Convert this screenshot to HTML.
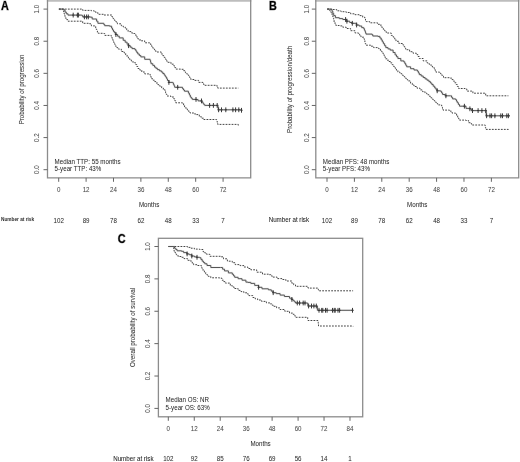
<!DOCTYPE html>
<html><head><meta charset="utf-8"><style>
html,body{margin:0;padding:0;background:#fff;}
body{width:520px;height:462px;overflow:hidden;}
svg{display:block;}
#w{width:520px;height:462px;will-change:transform;}
text{font-family:"Liberation Sans", sans-serif;fill:#2e2e2e;font-size:6.2px;stroke:rgba(60,60,60,0.10);stroke-width:0.5;paint-order:stroke;}
.lt{fill:#4a4a4a;}
.nb{font-weight:bold;fill:#333;}
.nr{fill:#222;stroke:#222;stroke-width:0.06;}
.c{text-anchor:middle;}
.yl{text-anchor:middle;font-size:6.2px;}
.L{font-weight:bold;fill:#000;stroke:rgba(0,0,0,0.35);stroke-width:0.9;}
.tk{stroke:#666;stroke-width:1.0;}
.kmh{fill:none;stroke:rgba(60,60,60,0.10);stroke-width:2.1;stroke-linejoin:round;}
.km{fill:none;stroke:#555;stroke-width:1.0;stroke-linejoin:round;}
.ci{fill:none;stroke:#454545;stroke-width:1.0;stroke-dasharray:1.8 1.2;}
.cm{fill:none;stroke:#3a3a3a;stroke-width:1.0;}
</style></head><body>
<div id="w"><svg width="520" height="462" viewBox="0 0 520 462">
<line x1="46.9" y1="0.8" x2="251.3" y2="0.8" stroke="#bdbdbd" stroke-width="1.9"/>
<path d="M47.5 0 L47.5 177.8 L250.7 177.8 L250.7 0" fill="none" stroke="#8c8c8c" stroke-width="1.3"/>
<line x1="43.5" y1="169.70" x2="47.5" y2="169.70" class="tk"/>
<text transform="translate(39.40 169.70) rotate(-90) scale(0.850 1)" text-anchor="middle" class="lt" style="font-size:7.30px">0.0</text>
<line x1="43.5" y1="137.58" x2="47.5" y2="137.58" class="tk"/>
<text transform="translate(39.40 137.58) rotate(-90) scale(0.850 1)" text-anchor="middle" class="lt" style="font-size:7.30px">0.2</text>
<line x1="43.5" y1="105.46" x2="47.5" y2="105.46" class="tk"/>
<text transform="translate(39.40 105.46) rotate(-90) scale(0.850 1)" text-anchor="middle" class="lt" style="font-size:7.30px">0.4</text>
<line x1="43.5" y1="73.34" x2="47.5" y2="73.34" class="tk"/>
<text transform="translate(39.40 73.34) rotate(-90) scale(0.850 1)" text-anchor="middle" class="lt" style="font-size:7.30px">0.6</text>
<line x1="43.5" y1="41.22" x2="47.5" y2="41.22" class="tk"/>
<text transform="translate(39.40 41.22) rotate(-90) scale(0.850 1)" text-anchor="middle" class="lt" style="font-size:7.30px">0.8</text>
<line x1="43.5" y1="9.10" x2="47.5" y2="9.10" class="tk"/>
<text transform="translate(39.40 9.10) rotate(-90) scale(0.850 1)" text-anchor="middle" class="lt" style="font-size:7.30px">1.0</text>
<line x1="58.70" y1="177.8" x2="58.70" y2="181.8" class="tk"/>
<text transform="translate(58.70 192.20) scale(0.850 1)" text-anchor="middle" class="lt" style="font-size:7.30px">0</text>
<text transform="translate(58.70 222.60) scale(0.850 1)" text-anchor="middle" style="font-size:7.30px">102</text>
<line x1="86.10" y1="177.8" x2="86.10" y2="181.8" class="tk"/>
<text transform="translate(86.10 192.20) scale(0.850 1)" text-anchor="middle" class="lt" style="font-size:7.30px">12</text>
<text transform="translate(86.10 222.60) scale(0.850 1)" text-anchor="middle" style="font-size:7.30px">89</text>
<line x1="113.49" y1="177.8" x2="113.49" y2="181.8" class="tk"/>
<text transform="translate(113.49 192.20) scale(0.850 1)" text-anchor="middle" class="lt" style="font-size:7.30px">24</text>
<text transform="translate(113.49 222.60) scale(0.850 1)" text-anchor="middle" style="font-size:7.30px">78</text>
<line x1="140.89" y1="177.8" x2="140.89" y2="181.8" class="tk"/>
<text transform="translate(140.89 192.20) scale(0.850 1)" text-anchor="middle" class="lt" style="font-size:7.30px">36</text>
<text transform="translate(140.89 222.60) scale(0.850 1)" text-anchor="middle" style="font-size:7.30px">62</text>
<line x1="168.28" y1="177.8" x2="168.28" y2="181.8" class="tk"/>
<text transform="translate(168.28 192.20) scale(0.850 1)" text-anchor="middle" class="lt" style="font-size:7.30px">48</text>
<text transform="translate(168.28 222.60) scale(0.850 1)" text-anchor="middle" style="font-size:7.30px">48</text>
<line x1="195.68" y1="177.8" x2="195.68" y2="181.8" class="tk"/>
<text transform="translate(195.68 192.20) scale(0.850 1)" text-anchor="middle" class="lt" style="font-size:7.30px">60</text>
<text transform="translate(195.68 222.60) scale(0.850 1)" text-anchor="middle" style="font-size:7.30px">33</text>
<line x1="223.08" y1="177.8" x2="223.08" y2="181.8" class="tk"/>
<text transform="translate(223.08 192.20) scale(0.850 1)" text-anchor="middle" class="lt" style="font-size:7.30px">72</text>
<text transform="translate(223.08 222.60) scale(0.850 1)" text-anchor="middle" style="font-size:7.30px">7</text>
<text transform="translate(149.10 207.10) scale(0.850 1)" text-anchor="middle" style="font-size:7.30px">Months</text>
<text transform="translate(24.00 89.40) rotate(-90) scale(0.850 1)" text-anchor="middle" style="font-size:7.30px">Probability of progression</text>
<text transform="translate(1.00 221.00) scale(0.789 1)" class="nb" style="font-size:6.00px">Number at risk</text>
<text transform="translate(1.00 10.00) scale(0.900 1)" class="L" style="font-size:12.00px">A</text>
<text transform="translate(54.60 163.50) scale(0.850 1)" style="font-size:7.30px">Median TTP: 55 months</text>
<text transform="translate(54.60 170.80) scale(0.850 1)" style="font-size:7.30px">5-year TTP: 43%</text>
<path d="M58.9 9.1L81.5 9.1L82.7 9.1L82.7 10.4L89.6 10.4L91.4 10.4L91.4 10.8L94.0 10.8L94.0 11.2L95.7 11.2L95.7 12.5L97.9 12.5L97.9 14.3L103.8 14.3L103.8 15.0L112.0 15.0L112.0 17.0L113.2 17.0L113.2 18.7L114.5 18.7L114.5 20.4L116.0 20.4L116.0 22.1L117.4 22.1L117.4 23.8L121.3 23.8L121.3 25.7L123.2 25.7L123.2 26.9L125.2 26.9L125.2 28.1L126.7 28.1L126.7 29.9L128.1 29.9L128.1 31.6L132.0 31.6L132.0 33.5L134.9 33.5L134.9 35.0L136.4 35.0L136.4 37.0L137.8 37.0L137.8 38.9L140.0 38.9L140.0 40.8L144.7 40.8L144.7 42.8L149.6 42.8L149.6 43.8L150.8 43.8L150.8 45.8L152.0 45.8L152.0 47.7L153.3 47.7L153.3 49.1L154.6 49.1L154.6 50.6L155.9 50.6L155.9 52.0L161.3 52.0L161.3 54.0L162.8 54.0L162.8 55.7L164.2 55.7L164.2 57.4L165.2 57.4L165.2 59.0L166.1 59.0L166.1 60.7L167.1 60.7L167.1 62.3L171.0 62.3L171.0 64.2L174.0 64.2L174.0 66.2L174.9 66.2L174.9 67.7L175.9 67.7L175.9 69.1L180.6 69.1L180.6 69.3L183.5 69.3L183.5 70.7L185.4 70.7L185.4 72.7L186.9 72.7L186.9 74.2L188.4 74.2L188.4 75.6L189.6 75.6L189.6 77.5L190.8 77.5L190.8 79.5L194.2 79.5L194.2 80.4L198.6 80.4L198.6 82.4L203.0 82.4L203.0 83.9L203.9 83.9L203.9 85.3L216.6 85.3L216.6 85.4L217.1 85.4L217.1 86.8L217.7 86.8L217.7 88.1L238.3 88.1" class="ci"/>
<path d="M58.9 9.1L62.8 9.1L62.8 9.5L63.2 9.5L63.2 10.9L63.7 10.9L63.7 12.4L64.1 12.4L64.1 13.8L64.5 13.8L64.5 15.3L65.0 15.3L65.0 16.7L65.4 16.7L65.4 18.2L66.7 18.2L66.7 19.7L68.0 19.7L68.0 21.2L81.8 21.2L82.7 21.2L82.7 23.3L89.6 23.3L89.6 23.8L91.4 23.8L91.4 25.9L94.8 25.9L94.8 26.4L95.7 26.4L95.7 28.1L96.3 28.1L96.3 29.5L96.8 29.5L96.8 31.0L97.4 31.0L97.4 32.4L98.3 32.4L98.3 33.3L103.8 33.3L103.8 33.5L104.7 33.5L104.7 35.4L110.6 35.4L111.3 35.4L111.3 36.9L112.0 36.9L112.0 38.4L112.8 38.4L112.8 40.3L113.5 40.3L113.5 42.3L114.5 42.3L114.5 44.2L115.4 44.2L115.4 46.2L116.9 46.2L116.9 47.7L118.4 47.7L118.4 49.1L121.3 49.1L121.3 51.5L124.2 51.5L124.2 53.0L125.7 53.0L125.7 55.0L127.1 55.0L127.1 56.9L128.4 56.9L128.4 58.2L129.7 58.2L129.7 59.5L131.3 59.5L131.3 61.1L133.0 61.1L133.0 62.7L135.5 62.7L135.5 64.5L136.7 64.5L136.7 66.5L137.9 66.5L137.9 68.5L139.9 68.5L139.9 70.2L141.8 70.2L141.8 72.0L144.7 72.0L144.7 73.9L149.6 73.9L149.6 74.4L150.3 74.4L150.3 75.9L150.9 75.9L150.9 77.3L151.6 77.3L151.6 78.8L153.1 78.8L153.1 80.2L154.5 80.2L154.5 81.6L156.0 81.6L156.0 83.0L157.9 83.0L157.9 84.7L159.8 84.7L159.8 86.3L161.7 86.3L161.7 88.0L163.3 88.0L163.3 89.6L165.0 89.6L165.0 91.2L165.6 91.2L165.6 92.8L166.3 92.8L166.3 94.4L166.9 94.4L166.9 96.0L170.8 96.0L170.8 97.0L173.8 97.0L173.8 98.9L174.8 98.9L174.8 100.8L175.7 100.8L175.7 102.8L182.5 102.8L182.5 103.3L183.6 103.3L183.6 105.2L184.6 105.2L184.6 107.0L185.9 107.0L185.9 108.5L187.3 108.5L187.3 110.0L188.7 110.0L188.7 111.5L190.0 111.5L190.0 113.0L195.0 113.0L195.0 114.6L199.3 114.6L199.3 116.8L201.5 116.8L201.5 118.2L203.7 118.2L203.7 119.5L216.6 119.5L216.6 120.0L217.0 120.0L217.0 121.5L217.3 121.5L217.3 122.9L217.7 122.9L217.7 124.4L238.3 124.4L238.3 125.5" class="ci"/>
<path d="M58.9 9.1L63.2 9.1L64.0 9.1L64.0 10.0L65.0 10.0L65.0 12.1L66.3 12.1L66.3 13.8L68.0 13.8L68.0 15.1L81.8 15.1L81.8 15.4L82.7 15.4L82.7 16.9L90.5 16.9L90.5 17.2L92.2 17.2L92.2 19.0L94.8 19.0L96.6 19.0L96.6 21.2L97.9 21.2L97.9 23.3L103.8 23.3L103.8 24.5L104.7 24.5L104.7 25.7L109.6 25.7L109.6 26.2L111.6 26.2L111.6 28.1L112.5 28.1L112.5 29.9L113.5 29.9L113.5 31.6L114.7 31.6L114.7 33.0L115.9 33.0L115.9 34.5L117.6 34.5L117.6 36.2L119.3 36.2L119.3 37.9L123.2 37.9L123.2 40.3L125.2 40.3L125.2 42.2L127.1 42.2L127.1 44.2L128.6 44.2L128.6 45.7L130.3 45.7L130.3 47.2L132.0 47.2L132.0 48.6L134.9 48.6L134.9 49.6L135.9 49.6L135.9 51.1L136.8 51.1L136.8 52.5L137.8 52.5L137.8 54.0L139.3 54.0L139.3 55.5L140.8 55.5L140.8 56.9L144.7 56.9L144.7 59.3L150.1 59.3L150.1 60.5L150.6 60.5L150.6 62.1L151.0 62.1L151.0 63.7L152.8 63.7L152.8 65.4L154.5 65.4L154.5 67.1L155.9 67.1L155.9 68.3L157.4 68.3L157.4 69.6L159.4 69.6L159.4 70.8L161.3 70.8L161.3 72.0L162.8 72.0L162.8 73.5L164.2 73.5L164.2 74.9L165.1 74.9L165.1 76.2L166.0 76.2L166.0 77.5L166.8 77.5L166.8 79.0L167.5 79.0L167.5 80.5L168.9 80.5L168.9 82.4L172.8 82.4L172.8 82.9L173.4 82.9L173.4 84.4L174.1 84.4L174.1 85.8L174.7 85.8L174.7 87.3L182.5 87.3L182.5 88.7L183.5 88.7L183.5 90.0L184.5 90.0L184.5 91.2L188.4 91.2L188.4 93.1L189.4 93.1L189.4 95.0L190.3 95.0L190.3 97.0L191.3 97.0L191.3 98.2L192.3 98.2L192.3 99.4L196.2 99.4L196.2 99.6L198.1 99.6L198.1 100.9L202.0 100.9L202.0 101.9L202.8 101.9L202.8 103.2L203.7 103.2L203.7 104.4L204.7 104.4L204.7 105.4L217.7 105.4L217.9 105.4L217.9 106.9L218.1 106.9L218.1 108.3L218.3 108.3L218.3 109.8L241.5 109.8L241.5 110.3" class="kmh"/>
<path d="M58.9 9.1L63.2 9.1L64.0 9.1L64.0 10.0L65.0 10.0L65.0 12.1L66.3 12.1L66.3 13.8L68.0 13.8L68.0 15.1L81.8 15.1L81.8 15.4L82.7 15.4L82.7 16.9L90.5 16.9L90.5 17.2L92.2 17.2L92.2 19.0L94.8 19.0L96.6 19.0L96.6 21.2L97.9 21.2L97.9 23.3L103.8 23.3L103.8 24.5L104.7 24.5L104.7 25.7L109.6 25.7L109.6 26.2L111.6 26.2L111.6 28.1L112.5 28.1L112.5 29.9L113.5 29.9L113.5 31.6L114.7 31.6L114.7 33.0L115.9 33.0L115.9 34.5L117.6 34.5L117.6 36.2L119.3 36.2L119.3 37.9L123.2 37.9L123.2 40.3L125.2 40.3L125.2 42.2L127.1 42.2L127.1 44.2L128.6 44.2L128.6 45.7L130.3 45.7L130.3 47.2L132.0 47.2L132.0 48.6L134.9 48.6L134.9 49.6L135.9 49.6L135.9 51.1L136.8 51.1L136.8 52.5L137.8 52.5L137.8 54.0L139.3 54.0L139.3 55.5L140.8 55.5L140.8 56.9L144.7 56.9L144.7 59.3L150.1 59.3L150.1 60.5L150.6 60.5L150.6 62.1L151.0 62.1L151.0 63.7L152.8 63.7L152.8 65.4L154.5 65.4L154.5 67.1L155.9 67.1L155.9 68.3L157.4 68.3L157.4 69.6L159.4 69.6L159.4 70.8L161.3 70.8L161.3 72.0L162.8 72.0L162.8 73.5L164.2 73.5L164.2 74.9L165.1 74.9L165.1 76.2L166.0 76.2L166.0 77.5L166.8 77.5L166.8 79.0L167.5 79.0L167.5 80.5L168.9 80.5L168.9 82.4L172.8 82.4L172.8 82.9L173.4 82.9L173.4 84.4L174.1 84.4L174.1 85.8L174.7 85.8L174.7 87.3L182.5 87.3L182.5 88.7L183.5 88.7L183.5 90.0L184.5 90.0L184.5 91.2L188.4 91.2L188.4 93.1L189.4 93.1L189.4 95.0L190.3 95.0L190.3 97.0L191.3 97.0L191.3 98.2L192.3 98.2L192.3 99.4L196.2 99.4L196.2 99.6L198.1 99.6L198.1 100.9L202.0 100.9L202.0 101.9L202.8 101.9L202.8 103.2L203.7 103.2L203.7 104.4L204.7 104.4L204.7 105.4L217.7 105.4L217.9 105.4L217.9 106.9L218.1 106.9L218.1 108.3L218.3 108.3L218.3 109.8L241.5 109.8L241.5 110.3" class="km"/>
<path d="M73.2 12.7V17.5M72.1 15.1H74.3" class="cm"/>
<path d="M77.4 12.7V17.5M76.3 15.1H78.5" class="cm"/>
<path d="M78.4 12.7V17.5M77.3 15.1H79.5" class="cm"/>
<path d="M84.4 14.5V19.3M83.3 16.9H85.5" class="cm"/>
<path d="M86.6 14.5V19.3M85.5 16.9H87.7" class="cm"/>
<path d="M88.3 14.5V19.3M87.2 16.9H89.4" class="cm"/>
<path d="M115.9 32.1V36.9M114.8 34.5H117.0" class="cm"/>
<path d="M128.6 43.3V48.1M127.5 45.7H129.7" class="cm"/>
<path d="M168.9 80.0V84.8M167.8 82.4H170.0" class="cm"/>
<path d="M177.7 84.9V89.7M176.6 87.3H178.8" class="cm"/>
<path d="M196.0 97.0V101.8M194.9 99.4H197.1" class="cm"/>
<path d="M201.5 98.5V103.3M200.4 100.9H202.6" class="cm"/>
<path d="M209.6 103.0V107.8M208.5 105.4H210.7" class="cm"/>
<path d="M213.4 103.0V107.8M212.3 105.4H214.5" class="cm"/>
<path d="M217.2 103.0V107.8M216.1 105.4H218.3" class="cm"/>
<path d="M218.6 107.4V112.2M217.5 109.8H219.7" class="cm"/>
<path d="M221.5 107.4V112.2M220.4 109.8H222.6" class="cm"/>
<path d="M225.8 107.4V112.2M224.7 109.8H226.9" class="cm"/>
<path d="M232.9 107.4V112.2M231.8 109.8H234.0" class="cm"/>
<path d="M235.6 107.4V112.2M234.5 109.8H236.7" class="cm"/>
<path d="M238.8 107.4V112.2M237.7 109.8H239.9" class="cm"/>
<path d="M241.5 107.9V112.7M240.4 110.3H242.6" class="cm"/>
<line x1="315.2" y1="0.8" x2="519.3" y2="0.8" stroke="#bdbdbd" stroke-width="1.9"/>
<path d="M315.8 0 L315.8 177.8 L518.7 177.8 L518.7 0" fill="none" stroke="#8c8c8c" stroke-width="1.3"/>
<line x1="311.8" y1="169.70" x2="315.8" y2="169.70" class="tk"/>
<text transform="translate(308.60 169.70) rotate(-90) scale(0.850 1)" text-anchor="middle" class="lt" style="font-size:7.30px">0.0</text>
<line x1="311.8" y1="137.58" x2="315.8" y2="137.58" class="tk"/>
<text transform="translate(308.60 137.58) rotate(-90) scale(0.850 1)" text-anchor="middle" class="lt" style="font-size:7.30px">0.2</text>
<line x1="311.8" y1="105.46" x2="315.8" y2="105.46" class="tk"/>
<text transform="translate(308.60 105.46) rotate(-90) scale(0.850 1)" text-anchor="middle" class="lt" style="font-size:7.30px">0.4</text>
<line x1="311.8" y1="73.34" x2="315.8" y2="73.34" class="tk"/>
<text transform="translate(308.60 73.34) rotate(-90) scale(0.850 1)" text-anchor="middle" class="lt" style="font-size:7.30px">0.6</text>
<line x1="311.8" y1="41.22" x2="315.8" y2="41.22" class="tk"/>
<text transform="translate(308.60 41.22) rotate(-90) scale(0.850 1)" text-anchor="middle" class="lt" style="font-size:7.30px">0.8</text>
<line x1="311.8" y1="9.10" x2="315.8" y2="9.10" class="tk"/>
<text transform="translate(308.60 9.10) rotate(-90) scale(0.850 1)" text-anchor="middle" class="lt" style="font-size:7.30px">1.0</text>
<line x1="327.00" y1="177.8" x2="327.00" y2="181.8" class="tk"/>
<text transform="translate(327.00 192.20) scale(0.850 1)" text-anchor="middle" class="lt" style="font-size:7.30px">0</text>
<text transform="translate(327.00 222.80) scale(0.850 1)" text-anchor="middle" style="font-size:7.30px">102</text>
<line x1="354.40" y1="177.8" x2="354.40" y2="181.8" class="tk"/>
<text transform="translate(354.40 192.20) scale(0.850 1)" text-anchor="middle" class="lt" style="font-size:7.30px">12</text>
<text transform="translate(354.40 222.80) scale(0.850 1)" text-anchor="middle" style="font-size:7.30px">89</text>
<line x1="381.79" y1="177.8" x2="381.79" y2="181.8" class="tk"/>
<text transform="translate(381.79 192.20) scale(0.850 1)" text-anchor="middle" class="lt" style="font-size:7.30px">24</text>
<text transform="translate(381.79 222.80) scale(0.850 1)" text-anchor="middle" style="font-size:7.30px">78</text>
<line x1="409.19" y1="177.8" x2="409.19" y2="181.8" class="tk"/>
<text transform="translate(409.19 192.20) scale(0.850 1)" text-anchor="middle" class="lt" style="font-size:7.30px">36</text>
<text transform="translate(409.19 222.80) scale(0.850 1)" text-anchor="middle" style="font-size:7.30px">62</text>
<line x1="436.58" y1="177.8" x2="436.58" y2="181.8" class="tk"/>
<text transform="translate(436.58 192.20) scale(0.850 1)" text-anchor="middle" class="lt" style="font-size:7.30px">48</text>
<text transform="translate(436.58 222.80) scale(0.850 1)" text-anchor="middle" style="font-size:7.30px">48</text>
<line x1="463.98" y1="177.8" x2="463.98" y2="181.8" class="tk"/>
<text transform="translate(463.98 192.20) scale(0.850 1)" text-anchor="middle" class="lt" style="font-size:7.30px">60</text>
<text transform="translate(463.98 222.80) scale(0.850 1)" text-anchor="middle" style="font-size:7.30px">33</text>
<line x1="491.38" y1="177.8" x2="491.38" y2="181.8" class="tk"/>
<text transform="translate(491.38 192.20) scale(0.850 1)" text-anchor="middle" class="lt" style="font-size:7.30px">72</text>
<text transform="translate(491.38 222.80) scale(0.850 1)" text-anchor="middle" style="font-size:7.30px">7</text>
<text transform="translate(417.25 207.10) scale(0.850 1)" text-anchor="middle" style="font-size:7.30px">Months</text>
<text transform="translate(292.40 89.40) rotate(-90) scale(0.850 1)" text-anchor="middle" style="font-size:7.30px">Probability of progression/death</text>
<text transform="translate(268.70 222.00) scale(0.850 1)" class="nr" style="font-size:7.30px">Number at risk</text>
<text transform="translate(269.00 10.00) scale(0.900 1)" class="L" style="font-size:12.00px">B</text>
<text transform="translate(322.80 163.50) scale(0.850 1)" style="font-size:7.30px">Median PFS: 48 months</text>
<text transform="translate(322.80 170.80) scale(0.850 1)" style="font-size:7.30px">5-year PFS: 43%</text>
<path d="M327.2 9.1L332.4 9.1L332.4 9.5L336.7 9.5L336.7 10.8L341.0 10.8L341.0 11.7L346.2 11.7L346.2 12.5L350.6 12.5L350.6 13.8L354.9 13.8L354.9 14.7L359.2 14.7L359.2 15.6L362.7 15.6L362.7 17.3L364.9 17.3L364.9 19.0L365.5 19.0L365.5 20.3L366.2 20.3L366.2 21.6L369.7 21.6L369.7 22.8L377.5 22.8L377.5 24.3L380.9 24.3L380.9 26.7L382.1 26.7L382.1 28.4L383.4 28.4L383.4 30.1L384.9 30.1L384.9 31.6L386.3 31.6L386.3 33.0L391.2 33.0L391.2 35.4L392.4 35.4L392.4 36.6L393.6 36.6L393.6 37.9L394.8 37.9L394.8 39.6L396.0 39.6L396.0 41.3L398.9 41.3L398.9 43.5L402.8 43.5L402.8 44.9L403.8 44.9L403.8 46.5L404.7 46.5L404.7 48.1L405.7 48.1L405.7 49.7L409.6 49.7L409.6 51.7L413.0 51.7L413.0 53.2L416.4 53.2L416.4 54.6L417.9 54.6L417.9 56.5L419.3 56.5L419.3 58.5L423.2 58.5L423.2 60.9L427.1 60.9L427.1 62.9L429.1 62.9L429.1 64.3L431.0 64.3L431.0 65.8L432.4 65.8L432.4 67.0L433.9 67.0L433.9 68.2L434.9 68.2L434.9 70.2L435.9 70.2L435.9 72.1L439.6 72.1L439.6 73.3L440.9 73.3L440.9 74.8L442.2 74.8L442.2 76.2L443.5 76.2L443.5 77.7L450.3 77.7L450.3 78.1L451.8 78.1L451.8 79.6L453.2 79.6L453.2 81.1L454.7 81.1L454.7 82.8L456.2 82.8L456.2 84.5L457.4 84.5L457.4 86.5L458.6 86.5L458.6 88.5L465.1 88.5L465.1 88.9L466.8 88.9L466.8 91.1L471.2 91.1L472.9 91.1L472.9 93.2L485.7 93.2L485.7 95.8L508.4 95.8" class="ci"/>
<path d="M327.2 9.1L329.8 9.1L329.8 10.8L330.6 10.8L330.6 12.1L331.5 12.1L331.5 13.4L332.1 13.4L332.1 15.0L332.7 15.0L332.7 16.6L333.3 16.6L333.3 18.2L333.7 18.2L333.7 20.1L334.1 20.1L334.1 22.0L335.0 22.0L335.0 23.8L335.9 23.8L335.9 25.5L339.3 25.5L339.3 25.9L342.8 25.9L342.8 27.2L346.2 27.2L346.2 28.5L350.6 28.5L350.6 30.7L354.9 30.7L354.9 32.9L358.4 32.9L358.4 34.2L359.7 34.2L359.7 35.7L361.0 35.7L361.0 37.2L363.9 37.2L363.9 38.9L364.4 38.9L364.4 40.5L364.9 40.5L364.9 42.0L365.3 42.0L365.3 43.6L365.8 43.6L365.8 45.2L370.7 45.2L370.7 46.2L373.6 46.2L373.6 47.6L378.5 47.6L378.5 48.6L380.4 48.6L380.4 51.0L381.9 51.0L381.9 53.0L383.4 53.0L383.4 54.9L384.4 54.9L384.4 56.8L385.3 56.8L385.3 58.8L387.1 58.8L387.1 60.2L388.8 60.2L388.8 61.5L390.6 61.5L390.6 62.9L392.1 62.9L392.1 64.7L393.5 64.7L393.5 66.4L395.0 66.4L395.0 68.2L396.4 68.2L396.4 70.2L397.9 70.2L397.9 72.1L399.9 72.1L399.9 73.6L401.8 73.6L401.8 75.1L403.2 75.1L403.2 76.5L404.7 76.5L404.7 78.0L406.2 78.0L406.2 79.5L407.7 79.5L407.7 80.9L410.6 80.9L410.6 83.3L412.3 83.3L412.3 84.9L414.0 84.9L414.0 86.5L417.0 86.5L417.0 88.2L420.0 88.2L420.0 89.9L422.5 89.9L422.5 91.6L425.0 91.6L425.0 93.2L426.9 93.2L426.9 94.7L428.9 94.7L428.9 96.2L430.4 96.2L430.4 97.7L431.8 97.7L431.8 99.1L433.2 99.1L433.2 100.5L434.7 100.5L434.7 102.0L436.2 102.0L436.2 103.5L437.7 103.5L437.7 104.9L441.6 104.9L441.6 105.9L442.1 105.9L442.1 107.3L442.5 107.3L442.5 108.7L443.0 108.7L443.0 110.1L449.5 110.1L449.5 110.5L450.8 110.5L450.8 111.8L452.1 111.8L452.1 113.1L455.6 113.1L455.6 113.6L456.6 113.6L456.6 115.5L457.7 115.5L457.7 117.5L458.6 117.5L458.6 118.8L459.5 118.8L459.5 120.1L466.0 120.1L466.0 120.5L468.6 120.5L468.6 122.7L470.5 122.7L470.5 123.5L471.6 123.5L471.6 125.0L485.2 125.0L485.2 125.6L485.4 125.6L485.4 127.5L485.7 127.5L485.7 129.4L508.4 129.4L508.4 129.9" class="ci"/>
<path d="M327.2 9.1L330.7 9.1L330.7 9.5L332.0 9.5L332.0 11.2L332.8 11.2L332.8 13.4L333.7 13.4L333.7 15.6L335.4 15.6L335.4 17.7L339.3 17.7L339.3 18.6L342.8 18.6L342.8 19.5L346.7 19.5L346.7 21.2L349.7 21.2L349.7 22.5L352.3 22.5L352.3 23.3L356.6 23.3L356.6 25.0L359.1 25.0L359.1 26.0L361.7 26.0L361.7 27.6L363.7 27.6L363.7 28.6L364.4 28.6L364.4 30.1L365.0 30.1L365.0 31.5L365.5 31.5L365.5 32.8L366.0 32.8L366.0 34.1L372.1 34.1L372.1 34.7L372.8 34.7L372.8 36.0L378.0 36.0L378.0 36.4L379.9 36.4L379.9 38.0L381.2 38.0L381.2 39.9L382.3 39.9L382.3 41.8L383.4 41.8L383.4 43.7L384.6 43.7L384.6 45.7L385.8 45.7L385.8 47.6L388.0 47.6L388.0 48.9L390.2 48.9L390.2 50.1L393.1 50.1L393.1 52.5L395.1 52.5L395.1 54.9L396.5 54.9L396.5 56.7L397.9 56.7L397.9 58.5L400.8 58.5L400.8 60.9L403.8 60.9L403.8 61.9L404.8 61.9L404.8 63.5L405.7 63.5L405.7 65.2L406.7 65.2L406.7 66.8L410.6 66.8L410.6 68.7L414.0 68.7L414.0 70.0L417.4 70.0L417.4 71.2L418.4 71.2L418.4 72.9L419.3 72.9L419.3 74.6L421.2 74.6L421.2 76.0L423.2 76.0L423.2 77.5L425.1 77.5L425.1 78.9L427.0 78.9L427.0 80.2L428.9 80.2L428.9 81.6L430.4 81.6L430.4 83.0L431.8 83.0L431.8 84.5L433.2 84.5L433.2 86.2L434.7 86.2L434.7 87.9L435.9 87.9L435.9 89.3L437.2 89.3L437.2 90.8L440.6 90.8L440.6 91.3L441.6 91.3L441.6 92.9L442.6 92.9L442.6 94.5L445.2 94.5L445.2 95.8L450.4 95.8L451.5 95.8L451.5 97.3L452.6 97.3L452.6 98.9L455.6 98.9L455.6 99.7L456.5 99.7L456.5 101.2L457.3 101.2L457.3 102.7L458.4 102.7L458.4 104.5L459.5 104.5L459.5 106.2L464.2 106.2L466.0 106.2L466.0 108.4L469.9 108.4L469.9 108.8L471.6 108.8L471.6 110.6L486.2 110.6L486.2 111.0L486.2 115.8L510.0 115.8" class="kmh"/>
<path d="M327.2 9.1L330.7 9.1L330.7 9.5L332.0 9.5L332.0 11.2L332.8 11.2L332.8 13.4L333.7 13.4L333.7 15.6L335.4 15.6L335.4 17.7L339.3 17.7L339.3 18.6L342.8 18.6L342.8 19.5L346.7 19.5L346.7 21.2L349.7 21.2L349.7 22.5L352.3 22.5L352.3 23.3L356.6 23.3L356.6 25.0L359.1 25.0L359.1 26.0L361.7 26.0L361.7 27.6L363.7 27.6L363.7 28.6L364.4 28.6L364.4 30.1L365.0 30.1L365.0 31.5L365.5 31.5L365.5 32.8L366.0 32.8L366.0 34.1L372.1 34.1L372.1 34.7L372.8 34.7L372.8 36.0L378.0 36.0L378.0 36.4L379.9 36.4L379.9 38.0L381.2 38.0L381.2 39.9L382.3 39.9L382.3 41.8L383.4 41.8L383.4 43.7L384.6 43.7L384.6 45.7L385.8 45.7L385.8 47.6L388.0 47.6L388.0 48.9L390.2 48.9L390.2 50.1L393.1 50.1L393.1 52.5L395.1 52.5L395.1 54.9L396.5 54.9L396.5 56.7L397.9 56.7L397.9 58.5L400.8 58.5L400.8 60.9L403.8 60.9L403.8 61.9L404.8 61.9L404.8 63.5L405.7 63.5L405.7 65.2L406.7 65.2L406.7 66.8L410.6 66.8L410.6 68.7L414.0 68.7L414.0 70.0L417.4 70.0L417.4 71.2L418.4 71.2L418.4 72.9L419.3 72.9L419.3 74.6L421.2 74.6L421.2 76.0L423.2 76.0L423.2 77.5L425.1 77.5L425.1 78.9L427.0 78.9L427.0 80.2L428.9 80.2L428.9 81.6L430.4 81.6L430.4 83.0L431.8 83.0L431.8 84.5L433.2 84.5L433.2 86.2L434.7 86.2L434.7 87.9L435.9 87.9L435.9 89.3L437.2 89.3L437.2 90.8L440.6 90.8L440.6 91.3L441.6 91.3L441.6 92.9L442.6 92.9L442.6 94.5L445.2 94.5L445.2 95.8L450.4 95.8L451.5 95.8L451.5 97.3L452.6 97.3L452.6 98.9L455.6 98.9L455.6 99.7L456.5 99.7L456.5 101.2L457.3 101.2L457.3 102.7L458.4 102.7L458.4 104.5L459.5 104.5L459.5 106.2L464.2 106.2L466.0 106.2L466.0 108.4L469.9 108.4L469.9 108.8L471.6 108.8L471.6 110.6L486.2 110.6L486.2 111.0L486.2 115.8L510.0 115.8" class="km"/>
<path d="M345.6 17.1V21.9M344.5 19.5H346.7" class="cm"/>
<path d="M346.9 18.8V23.6M345.8 21.2H348.0" class="cm"/>
<path d="M352.3 20.9V25.7M351.2 23.3H353.4" class="cm"/>
<path d="M356.6 22.6V27.4M355.5 25.0H357.7" class="cm"/>
<path d="M437.2 88.4V93.2M436.1 90.8H438.3" class="cm"/>
<path d="M445.9 93.4V98.2M444.8 95.8H447.0" class="cm"/>
<path d="M464.4 103.8V108.6M463.3 106.2H465.5" class="cm"/>
<path d="M469.9 106.4V111.2M468.8 108.8H471.0" class="cm"/>
<path d="M472.5 108.2V113.0M471.4 110.6H473.6" class="cm"/>
<path d="M478.1 108.2V113.0M477.0 110.6H479.2" class="cm"/>
<path d="M481.9 108.2V113.0M480.8 110.6H483.0" class="cm"/>
<path d="M485.7 108.2V113.0M484.6 110.6H486.8" class="cm"/>
<path d="M486.6 113.4V118.2M485.5 115.8H487.7" class="cm"/>
<path d="M490.0 113.4V118.2M488.9 115.8H491.1" class="cm"/>
<path d="M491.6 113.4V118.2M490.5 115.8H492.7" class="cm"/>
<path d="M494.9 113.4V118.2M493.8 115.8H496.0" class="cm"/>
<path d="M500.8 113.4V118.2M499.7 115.8H501.9" class="cm"/>
<path d="M502.5 113.4V118.2M501.4 115.8H503.6" class="cm"/>
<path d="M506.8 113.4V118.2M505.7 115.8H507.9" class="cm"/>
<path d="M508.4 113.4V118.2M507.3 115.8H509.5" class="cm"/>
<rect x="158.4" y="238.3" width="204.3" height="178.5" fill="none" stroke="#8c8c8c" stroke-width="1.3"/>
<line x1="154.4" y1="408.40" x2="158.4" y2="408.40" class="tk"/>
<text transform="translate(150.20 408.40) rotate(-90) scale(0.850 1)" text-anchor="middle" class="lt" style="font-size:7.30px">0.0</text>
<line x1="154.4" y1="376.02" x2="158.4" y2="376.02" class="tk"/>
<text transform="translate(150.20 376.02) rotate(-90) scale(0.850 1)" text-anchor="middle" class="lt" style="font-size:7.30px">0.2</text>
<line x1="154.4" y1="343.64" x2="158.4" y2="343.64" class="tk"/>
<text transform="translate(150.20 343.64) rotate(-90) scale(0.850 1)" text-anchor="middle" class="lt" style="font-size:7.30px">0.4</text>
<line x1="154.4" y1="311.26" x2="158.4" y2="311.26" class="tk"/>
<text transform="translate(150.20 311.26) rotate(-90) scale(0.850 1)" text-anchor="middle" class="lt" style="font-size:7.30px">0.6</text>
<line x1="154.4" y1="278.88" x2="158.4" y2="278.88" class="tk"/>
<text transform="translate(150.20 278.88) rotate(-90) scale(0.850 1)" text-anchor="middle" class="lt" style="font-size:7.30px">0.8</text>
<line x1="154.4" y1="246.50" x2="158.4" y2="246.50" class="tk"/>
<text transform="translate(150.20 246.50) rotate(-90) scale(0.850 1)" text-anchor="middle" class="lt" style="font-size:7.30px">1.0</text>
<line x1="168.30" y1="416.8" x2="168.30" y2="420.8" class="tk"/>
<text transform="translate(168.30 431.20) scale(0.850 1)" text-anchor="middle" class="lt" style="font-size:7.30px">0</text>
<text transform="translate(168.30 461.30) scale(0.850 1)" text-anchor="middle" style="font-size:7.30px">102</text>
<line x1="194.26" y1="416.8" x2="194.26" y2="420.8" class="tk"/>
<text transform="translate(194.26 431.20) scale(0.850 1)" text-anchor="middle" class="lt" style="font-size:7.30px">12</text>
<text transform="translate(194.26 461.30) scale(0.850 1)" text-anchor="middle" style="font-size:7.30px">92</text>
<line x1="220.21" y1="416.8" x2="220.21" y2="420.8" class="tk"/>
<text transform="translate(220.21 431.20) scale(0.850 1)" text-anchor="middle" class="lt" style="font-size:7.30px">24</text>
<text transform="translate(220.21 461.30) scale(0.850 1)" text-anchor="middle" style="font-size:7.30px">85</text>
<line x1="246.17" y1="416.8" x2="246.17" y2="420.8" class="tk"/>
<text transform="translate(246.17 431.20) scale(0.850 1)" text-anchor="middle" class="lt" style="font-size:7.30px">36</text>
<text transform="translate(246.17 461.30) scale(0.850 1)" text-anchor="middle" style="font-size:7.30px">76</text>
<line x1="272.12" y1="416.8" x2="272.12" y2="420.8" class="tk"/>
<text transform="translate(272.12 431.20) scale(0.850 1)" text-anchor="middle" class="lt" style="font-size:7.30px">48</text>
<text transform="translate(272.12 461.30) scale(0.850 1)" text-anchor="middle" style="font-size:7.30px">69</text>
<line x1="298.08" y1="416.8" x2="298.08" y2="420.8" class="tk"/>
<text transform="translate(298.08 431.20) scale(0.850 1)" text-anchor="middle" class="lt" style="font-size:7.30px">60</text>
<text transform="translate(298.08 461.30) scale(0.850 1)" text-anchor="middle" style="font-size:7.30px">56</text>
<line x1="324.04" y1="416.8" x2="324.04" y2="420.8" class="tk"/>
<text transform="translate(324.04 431.20) scale(0.850 1)" text-anchor="middle" class="lt" style="font-size:7.30px">72</text>
<text transform="translate(324.04 461.30) scale(0.850 1)" text-anchor="middle" style="font-size:7.30px">14</text>
<line x1="349.99" y1="416.8" x2="349.99" y2="420.8" class="tk"/>
<text transform="translate(349.99 431.20) scale(0.850 1)" text-anchor="middle" class="lt" style="font-size:7.30px">84</text>
<text transform="translate(349.99 461.30) scale(0.850 1)" text-anchor="middle" style="font-size:7.30px">1</text>
<text transform="translate(260.55 445.90) scale(0.850 1)" text-anchor="middle" style="font-size:7.30px">Months</text>
<text transform="translate(135.00 327.45) rotate(-90) scale(0.850 1)" text-anchor="middle" style="font-size:7.30px">Overall probability of survival</text>
<text transform="translate(113.20 461.30) scale(0.850 1)" class="nr" style="font-size:7.30px">Number at risk</text>
<text transform="translate(117.80 243.30) scale(0.900 1)" class="L" style="font-size:12.00px">C</text>
<text transform="translate(165.60 402.30) scale(0.850 1)" style="font-size:7.30px">Median OS: NR</text>
<text transform="translate(165.60 409.60) scale(0.850 1)" style="font-size:7.30px">5-year OS: 63%</text>
<path d="M168.5 246.5L184.0 246.5L187.5 246.5L187.5 247.4L191.0 247.4L191.0 248.2L194.4 248.2L194.4 249.1L199.6 249.1L199.6 249.5L203.1 249.5L203.1 251.7L204.8 251.7L204.8 253.0L206.6 253.0L206.6 254.3L209.9 254.3L209.9 256.3L220.6 256.3L220.6 256.8L223.5 256.8L223.5 258.8L227.4 258.8L227.4 261.2L232.3 261.2L232.3 262.7L235.2 262.7L235.2 264.6L240.1 264.6L240.1 265.6L244.0 265.6L244.0 267.0L247.8 267.0L247.8 268.5L250.8 268.5L250.8 269.8L256.7 269.8L256.7 272.2L262.5 272.2L262.5 274.2L269.3 274.2L269.3 274.7L270.8 274.7L270.8 275.9L272.3 275.9L272.3 277.1L277.1 277.1L277.1 278.6L282.0 278.6L282.0 279.5L285.9 279.5L285.9 281.0L291.9 281.0L291.9 283.3L293.7 283.3L293.7 284.8L295.5 284.8L295.5 286.3L307.4 286.3L308.0 286.3L308.0 288.1L318.0 288.1L318.2 288.1L318.2 289.5L318.5 289.5L318.5 290.8L353.1 290.8" class="ci"/>
<path d="M168.5 246.5L173.2 246.5L173.2 246.9L173.5 246.9L173.5 248.4L173.8 248.4L173.8 249.8L174.1 249.8L174.1 251.3L175.2 251.3L175.2 253.0L176.3 253.0L176.3 254.7L178.0 254.7L178.0 256.5L181.5 256.5L181.5 257.3L184.0 257.3L184.0 258.6L187.5 258.6L187.5 260.3L191.0 260.3L191.0 262.1L192.3 262.1L192.3 263.4L193.6 263.4L193.6 264.7L197.0 264.7L197.0 265.5L199.6 265.5L201.4 265.5L201.4 267.7L202.2 267.7L202.2 269.2L203.1 269.2L203.1 270.7L204.4 270.7L204.4 272.2L205.7 272.2L205.7 273.8L207.0 273.8L207.0 275.1L208.3 275.1L208.3 276.4L210.8 276.4L210.8 277.8L219.6 277.8L219.6 278.2L222.0 278.2L222.0 280.2L223.7 280.2L223.7 281.6L225.4 281.6L225.4 283.1L230.3 283.1L230.3 285.5L232.2 285.5L232.2 287.0L234.2 287.0L234.2 288.5L238.1 288.5L238.1 290.4L241.0 290.4L241.0 291.6L243.9 291.6L243.9 292.8L247.8 292.8L247.8 294.3L248.9 294.3L248.9 295.6L252.8 295.6L252.8 297.5L255.2 297.5L255.2 298.8L257.7 298.8L257.7 300.0L261.6 300.0L261.6 301.4L266.4 301.4L266.4 302.9L270.3 302.9L270.3 303.9L271.8 303.9L271.8 305.1L273.2 305.1L273.2 306.3L276.6 306.3L276.6 307.9L280.0 307.9L280.0 309.5L284.8 309.5L284.8 311.3L289.5 311.3L289.5 313.1L293.1 313.1L293.1 314.3L294.3 314.3L294.3 315.8L295.5 315.8L295.5 317.3L307.4 317.3L307.7 317.3L307.7 318.9L308.0 318.9L308.0 320.5L318.0 320.5L318.0 321.0L318.2 321.0L318.2 322.7L318.3 322.7L318.3 324.3L318.5 324.3L318.5 326.0L353.1 326.0L353.1 326.3" class="ci"/>
<path d="M168.5 246.5L173.2 246.5L174.5 246.5L174.5 248.2L175.8 248.2L175.8 249.5L177.1 249.5L177.1 250.8L181.5 250.8L181.5 251.3L183.6 251.3L183.6 252.6L187.1 252.6L187.1 253.9L189.2 253.9L189.2 254.7L191.8 254.7L191.8 256.0L194.4 256.0L194.4 256.9L197.0 256.9L197.0 257.3L199.6 257.3L199.6 257.7L200.9 257.7L200.9 259.4L202.2 259.4L202.2 261.2L203.5 261.2L203.5 262.5L204.8 262.5L204.8 263.8L207.0 263.8L207.0 265.5L210.8 265.5L210.8 267.5L220.6 267.5L222.6 267.5L222.6 269.2L224.5 269.2L224.5 270.9L228.4 270.9L228.4 272.9L232.3 272.9L232.3 274.3L233.5 274.3L233.5 275.8L234.7 275.8L234.7 277.3L238.1 277.3L238.1 278.7L242.0 278.7L242.0 280.2L245.9 280.2L245.9 282.1L247.9 282.1L247.9 282.4L250.8 282.4L250.8 283.4L254.7 283.4L254.7 285.4L258.6 285.4L258.6 287.3L262.0 287.3L262.0 288.8L268.4 288.8L268.4 289.8L271.3 289.8L271.3 291.2L273.2 291.2L273.2 292.7L276.2 292.7L276.2 293.6L280.1 293.6L280.1 295.1L284.4 295.1L284.4 296.5L289.5 296.5L289.5 298.2L291.9 298.2L291.9 299.4L293.1 299.4L293.1 300.6L294.3 300.6L294.3 301.8L295.5 301.8L295.5 303.0L307.4 303.0L307.7 303.0L307.7 304.5L308.0 304.5L308.0 306.0L317.4 306.0L317.4 310.3L353.1 310.3L353.1 310.6" class="kmh"/>
<path d="M168.5 246.5L173.2 246.5L174.5 246.5L174.5 248.2L175.8 248.2L175.8 249.5L177.1 249.5L177.1 250.8L181.5 250.8L181.5 251.3L183.6 251.3L183.6 252.6L187.1 252.6L187.1 253.9L189.2 253.9L189.2 254.7L191.8 254.7L191.8 256.0L194.4 256.0L194.4 256.9L197.0 256.9L197.0 257.3L199.6 257.3L199.6 257.7L200.9 257.7L200.9 259.4L202.2 259.4L202.2 261.2L203.5 261.2L203.5 262.5L204.8 262.5L204.8 263.8L207.0 263.8L207.0 265.5L210.8 265.5L210.8 267.5L220.6 267.5L222.6 267.5L222.6 269.2L224.5 269.2L224.5 270.9L228.4 270.9L228.4 272.9L232.3 272.9L232.3 274.3L233.5 274.3L233.5 275.8L234.7 275.8L234.7 277.3L238.1 277.3L238.1 278.7L242.0 278.7L242.0 280.2L245.9 280.2L245.9 282.1L247.9 282.1L247.9 282.4L250.8 282.4L250.8 283.4L254.7 283.4L254.7 285.4L258.6 285.4L258.6 287.3L262.0 287.3L262.0 288.8L268.4 288.8L268.4 289.8L271.3 289.8L271.3 291.2L273.2 291.2L273.2 292.7L276.2 292.7L276.2 293.6L280.1 293.6L280.1 295.1L284.4 295.1L284.4 296.5L289.5 296.5L289.5 298.2L291.9 298.2L291.9 299.4L293.1 299.4L293.1 300.6L294.3 300.6L294.3 301.8L295.5 301.8L295.5 303.0L307.4 303.0L307.7 303.0L307.7 304.5L308.0 304.5L308.0 306.0L317.4 306.0L317.4 310.3L353.1 310.3L353.1 310.6" class="km"/>
<path d="M187.1 251.5V256.3M186.0 253.9H188.2" class="cm"/>
<path d="M191.8 253.6V258.4M190.7 256.0H192.9" class="cm"/>
<path d="M197.0 254.9V259.7M195.9 257.3H198.1" class="cm"/>
<path d="M258.6 284.9V289.7M257.5 287.3H259.7" class="cm"/>
<path d="M273.2 290.3V295.1M272.1 292.7H274.3" class="cm"/>
<path d="M291.9 297.0V301.8M290.8 299.4H293.0" class="cm"/>
<path d="M297.3 300.6V305.4M296.2 303.0H298.4" class="cm"/>
<path d="M299.6 300.6V305.4M298.5 303.0H300.7" class="cm"/>
<path d="M303.2 300.6V305.4M302.1 303.0H304.3" class="cm"/>
<path d="M305.0 300.6V305.4M303.9 303.0H306.1" class="cm"/>
<path d="M308.6 303.6V308.4M307.5 306.0H309.7" class="cm"/>
<path d="M311.5 303.6V308.4M310.4 306.0H312.6" class="cm"/>
<path d="M313.9 303.6V308.4M312.8 306.0H315.0" class="cm"/>
<path d="M316.3 303.6V308.4M315.2 306.0H317.4" class="cm"/>
<path d="M319.0 307.9V312.7M317.9 310.3H320.1" class="cm"/>
<path d="M321.7 307.9V312.7M320.6 310.3H322.8" class="cm"/>
<path d="M322.8 307.9V312.7M321.7 310.3H323.9" class="cm"/>
<path d="M325.5 307.9V312.7M324.4 310.3H326.6" class="cm"/>
<path d="M327.1 307.9V312.7M326.0 310.3H328.2" class="cm"/>
<path d="M332.5 307.9V312.7M331.4 310.3H333.6" class="cm"/>
<path d="M334.2 307.9V312.7M333.1 310.3H335.3" class="cm"/>
<path d="M335.2 307.9V312.7M334.1 310.3H336.3" class="cm"/>
<path d="M338.0 307.9V312.7M336.9 310.3H339.1" class="cm"/>
<path d="M339.6 307.9V312.7M338.5 310.3H340.7" class="cm"/>
<path d="M352.5 307.9V312.7M351.4 310.3H353.6" class="cm"/>
</svg></div>
</body></html>
